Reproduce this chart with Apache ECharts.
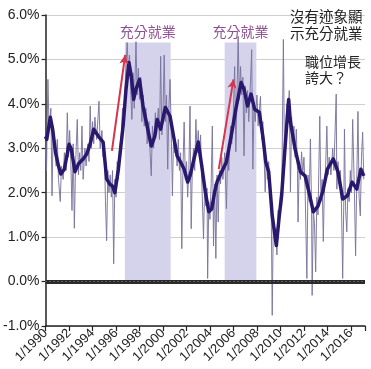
<!DOCTYPE html>
<html><head><meta charset="utf-8">
<script src="https://cdn.jsdelivr.net/npm/echarts@6/dist/echarts.min.js"></script>
<style>html,body{margin:0;padding:0;background:#fff}#c{width:371px;height:369px}</style>
</head><body><div id="c"></div>
<script>
// Tick labels
const yTicks = [-1, 0, 1, 2, 3, 4, 5, 6];
const xTickYears = [1990, 1992, 1994, 1996, 1998, 2000, 2002, 2004, 2006, 2008, 2010, 2012, 2014, 2016];
// Full employment shaded periods [start, end] (decimal years), top value (%)
const shadeStart = [1996.75, 2005.25];
const shadeEnd = [2000.65, 2007.95];
const shadeTop = 5.38;
const shadeLabel = '充分就業';
// Red arrows: [x0, y0, x1, y1]
const arrow1 = [1995.65, 2.94, 1996.78, 5.1];
const arrow2 = [2004.75, 2.53, 2006.0, 4.55];
// Monthly series (thin line): decimal years and values (%)
const thinT = [1990.0,1990.08,1990.2,1990.3,1990.45,1990.55,1990.65,1990.8,1990.9,1991.0,1991.1,1991.25,1991.35,1991.5,1991.6,1991.75,1991.85,1991.95,1992.05,1992.15,1992.25,1992.35,1992.45,1992.55,1992.7,1992.8,1992.9,1993.0,1993.1,1993.2,1993.35,1993.45,1993.6,1993.7,1993.8,1993.9,1994.0,1994.1,1994.2,1994.35,1994.55,1994.65,1994.8,1994.9,1995.0,1995.1,1995.2,1995.3,1995.4,1995.5,1995.6,1995.7,1995.8,1995.9,1996.0,1996.1,1996.2,1996.3,1996.45,1996.55,1996.7,1996.8,1996.95,1997.05,1997.15,1997.25,1997.35,1997.45,1997.55,1997.7,1997.8,1997.9,1998.0,1998.1,1998.2,1998.3,1998.4,1998.55,1998.65,1998.8,1998.9,1999.0,1999.1,1999.2,1999.35,1999.45,1999.6,1999.7,1999.8,1999.9,2000.0,2000.1,2000.2,2000.3,2000.4,2000.5,2000.6,2000.7,2000.8,2000.9,2001.0,2001.1,2001.2,2001.3,2001.4,2001.5,2001.6,2001.7,2001.8,2001.9,2002.0,2002.1,2002.2,2002.3,2002.4,2002.5,2002.6,2002.7,2002.8,2002.9,2003.0,2003.1,2003.2,2003.3,2003.45,2003.55,2003.65,2003.75,2003.8,2003.9,2004.0,2004.1,2004.2,2004.3,2004.4,2004.5,2004.6,2004.7,2004.8,2004.9,2005.0,2005.1,2005.25,2005.4,2005.5,2005.6,2005.75,2005.85,2006.0,2006.1,2006.2,2006.3,2006.4,2006.5,2006.6,2006.7,2006.8,2006.9,2007.0,2007.1,2007.2,2007.3,2007.45,2007.55,2007.65,2007.75,2007.85,2008.0,2008.1,2008.3,2008.4,2008.5,2008.6,2008.7,2008.8,2008.9,2009.0,2009.1,2009.2,2009.3,2009.4,2009.5,2009.6,2009.7,2009.8,2009.9,2010.0,2010.1,2010.25,2010.35,2010.45,2010.55,2010.65,2010.75,2010.85,2010.95,2011.05,2011.15,2011.25,2011.35,2011.45,2011.5,2011.6,2011.7,2011.8,2011.9,2012.0,2012.1,2012.25,2012.35,2012.45,2012.55,2012.65,2012.7,2012.8,2012.9,2013.0,2013.1,2013.2,2013.35,2013.45,2013.55,2013.65,2013.75,2013.85,2013.95,2014.05,2014.15,2014.3,2014.45,2014.55,2014.75,2014.8,2014.9,2015.0,2015.1,2015.2,2015.3,2015.4,2015.45,2015.55,2015.65,2015.75,2015.85,2015.95,2016.05,2016.15,2016.3,2016.4,2016.5,2016.6,2016.7,2016.8,2016.9,2017.0,2017.1];
const thinV = [3.0,2.5,4.55,3.4,3.9,1.93,3.5,3.0,2.6,3.2,2.3,1.8,2.6,2.3,2.9,2.5,3.8,2.8,3.4,2.7,1.6,3.1,1.2,2.6,3.65,2.4,2.9,2.5,3.5,2.3,3.0,2.6,3.1,2.7,3.95,3.0,3.6,3.1,3.7,3.2,4.06,3.0,3.4,2.8,3.1,1.8,0.92,2.5,2.0,2.4,1.9,2.5,0.4,2.3,1.9,2.7,2.3,3.0,3.3,3.9,3.7,4.6,5.38,4.7,5.1,4.3,3.65,4.7,3.9,5.4,4.2,4.8,4.1,4.6,3.6,4.2,3.5,3.9,3.1,3.6,2.9,2.38,3.5,3.0,3.8,3.3,3.9,3.2,5.07,3.3,3.8,5.1,3.6,4.2,2.53,3.9,4.55,3.4,1.93,3.3,2.9,3.1,2.6,3.2,2.5,2.9,0.74,2.6,3.59,2.3,2.7,1.9,2.5,3.95,1.19,2.6,3.0,2.5,3.65,2.9,3.4,2.8,3.3,2.3,0.96,2.2,1.7,2.1,0.07,1.8,1.4,2.2,3.5,0.8,2.2,0.52,2.4,1.34,2.5,2.2,2.8,2.3,2.9,1.64,2.9,2.5,3.5,3.1,3.9,4.84,2.92,4.2,5.52,4.1,4.84,4.2,4.6,2.83,4.4,3.8,4.3,3.6,4.5,5.22,2.53,4.0,3.6,4.2,3.5,4.17,3.2,3.6,2.9,2.02,2.8,2.3,2.7,1.9,2.02,-0.76,1.5,0.9,1.2,0.6,1.6,1.3,2.0,1.7,5.45,2.6,3.4,4.0,3.6,4.3,2.02,3.7,3.2,3.5,2.8,3.43,2.5,1.34,2.7,2.3,2.92,2.4,2.8,2.1,0.07,2.4,1.8,3.21,1.7,-0.31,1.6,1.3,0.22,1.9,1.5,3.72,1.8,2.3,0.9,2.2,2.6,3.5,2.4,2.8,2.4,3.0,2.5,4.22,2.08,2.7,2.2,2.5,1.7,0.07,1.9,3.43,1.6,1.12,2.1,1.8,2.5,2.0,3.65,2.0,0.58,2.3,3.83,1.9,1.48,2.8,3.36,2.3];
// Smoothed series (thick line)
const thickT = [1990.0,1990.1,1990.4,1990.6,1990.85,1991.1,1991.3,1991.6,1992.0,1992.2,1992.5,1992.8,1993.2,1993.5,1993.8,1994.1,1994.5,1994.9,1995.2,1995.45,1995.7,1995.9,1996.2,1996.6,1996.85,1997.1,1997.3,1997.5,1997.7,1998.0,1998.3,1998.7,1999.0,1999.3,1999.5,1999.8,2000.2,2000.6,2000.9,2001.2,2001.5,2001.8,2002.1,2002.3,2002.7,2003.0,2003.3,2003.6,2003.9,2004.15,2004.4,2004.6,2005.0,2005.4,2005.8,2006.2,2006.65,2006.9,2007.2,2007.5,2007.8,2008.2,2008.5,2008.75,2009.0,2009.3,2009.65,2009.9,2010.1,2010.4,2010.7,2010.85,2011.25,2011.7,2012.1,2012.5,2012.8,2013.2,2013.6,2014.0,2014.5,2014.9,2015.3,2015.7,2016.1,2016.5,2016.85,2017.1];
const thickV = [3.27,3.2,3.7,3.43,2.9,2.6,2.42,2.53,3.09,2.98,2.47,2.65,2.76,2.87,3.1,3.43,3.27,3.14,2.31,2.2,2.15,2.0,2.53,3.5,4.33,4.93,4.62,4.1,4.33,4.55,3.95,3.43,3.05,3.27,3.65,3.43,3.92,3.72,3.27,2.83,2.69,2.53,2.24,2.38,2.83,3.14,2.6,2.02,1.57,1.64,2.02,2.24,2.47,2.69,3.27,3.88,4.48,4.33,3.95,4.22,3.88,3.81,3.27,2.69,2.47,1.48,0.81,1.48,1.93,3.05,4.1,3.59,2.98,2.47,2.38,1.93,1.57,1.7,2.02,2.53,2.76,2.47,1.86,1.93,2.24,2.08,2.53,2.38];

const thinData = thinT.map((t, i) => [t, thinV[i]]);
const thickData = thickT.map((t, i) => [t, thickV[i]]);
const LAT = '"Liberation Sans", Arial, sans-serif';
const CJK = '"Noto Sans CJK TC", "Noto Sans CJK SC", sans-serif';

const chart = echarts.init(document.getElementById('c'));
chart.setOption({
  animation: false,
  backgroundColor: '#fff',
  grid: { left: 40, right: 6, top: 15, bottom: 43 },
  xAxis: {
    type: 'value', min: 1990, max: 2017.2, interval: 2,
    axisLine: { show: true, onZero: false, lineStyle: { color: '#222', width: 1.5 } },
    axisTick: { show: true, length: 5, lineStyle: { color: '#222', width: 1.2 } },
    splitLine: { show: false },
    axisLabel: {
      rotate: 45, fontSize: 13, color: '#222', fontFamily: LAT, margin: 5,
      formatter: v => (xTickYears.indexOf(v) >= 0 ? '1/' + v : '')
    }
  },
  yAxis: {
    type: 'value', min: yTicks[0], max: yTicks[yTicks.length - 1], interval: 1,
    axisLine: { show: true, lineStyle: { color: '#222', width: 1.5 } },
    axisTick: { show: true, length: 4, lineStyle: { color: '#222', width: 1.2 } },
    splitLine: { show: true, lineStyle: { color: '#cfcfcf', width: 1 } },
    axisLabel: { fontSize: 14, color: '#222', fontFamily: LAT, margin: 6, formatter: v => v.toFixed(1) + '%' }
  },
  series: [
    {
      type: 'line', data: [], z: 1,
      markArea: {
        silent: true,
        itemStyle: { color: '#d5d3eb' },
        label: { show: true, position: 'top', distance: 4, color: '#8d4f92', fontSize: 14, fontFamily: CJK },
        data: shadeStart.map((s, i) => [
          { name: shadeLabel, xAxis: s, yAxis: 0 },
          { xAxis: shadeEnd[i], yAxis: shadeTop }
        ])
      },
      markLine: {
        silent: true, symbol: 'none', label: { show: false },
        data: [
          { yAxis: 0, lineStyle: { color: '#2a2a2a', width: 4, type: 'solid' } },
          { yAxis: 0, lineStyle: { color: '#8a8a8a', width: 1, type: [1, 3] } }
        ]
      }
    },
    {
      type: 'line', data: thinData, z: 3, showSymbol: false,
      lineStyle: { color: '#7a759e', width: 1, opacity: 0.95 }
    },
    {
      type: 'line', data: thickData, z: 4, showSymbol: false,
      lineStyle: { color: '#2a186e', width: 3.5, join: 'round' }
    },
    {
      type: 'line', data: [], z: 5,
      markLine: {
        silent: true, symbol: ['none', 'arrow'], symbolSize: [7, 9], label: { show: false },
        lineStyle: { color: '#d9344e', width: 2, type: 'solid' },
        data: [
          [{ coord: [arrow1[0], arrow1[1]] }, { coord: [arrow1[2], arrow1[3]] }],
          [{ coord: [arrow2[0], arrow2[1]] }, { coord: [arrow2[2], arrow2[3]] }]
        ]
      }
    }
  ],
  graphic: [
    { type: 'text', left: 290, top: 8, z: 10,
      style: { text: '沒有迹象顯\n示充分就業', fontSize: 14.5, lineHeight: 17, fill: '#222', fontFamily: CJK } },
    { type: 'text', left: 305, top: 54, z: 10,
      style: { text: '職位增長\n誇大？', fontSize: 14, lineHeight: 16, fill: '#222', fontFamily: CJK } }
  ]
});
</script>
</body></html>
